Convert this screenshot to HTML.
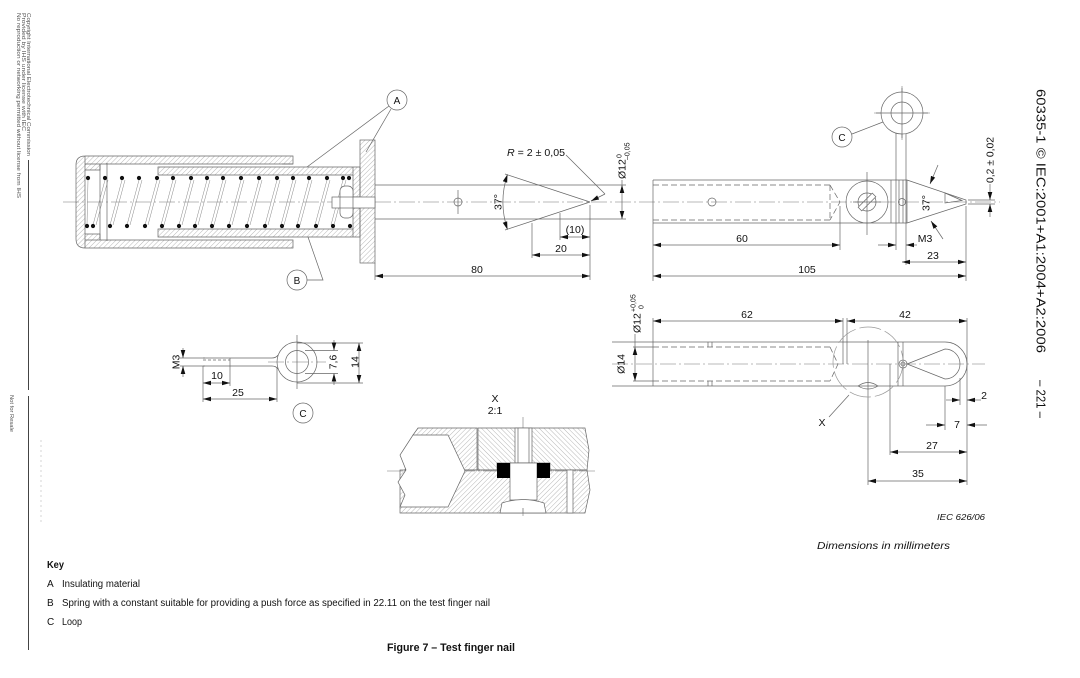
<!DOCTYPE html>
<html><head><meta charset="utf-8"><style>
html,body{margin:0;padding:0;background:#fff;}
svg{display:block;}
text{font-family:"Liberation Sans",Arial,sans-serif;fill:#111;}
</style></head><body>
<svg width="1080" height="678" viewBox="0 0 1080 678" xmlns="http://www.w3.org/2000/svg">
<defs>
<pattern id="h1" width="3.4" height="3.4" patternUnits="userSpaceOnUse" patternTransform="rotate(45)"><line x1="0" y1="0" x2="0" y2="3.4" stroke="#888" stroke-width="0.6"/></pattern>
<pattern id="h2" width="3.4" height="3.4" patternUnits="userSpaceOnUse" patternTransform="rotate(-45)"><line x1="0" y1="0" x2="0" y2="3.4" stroke="#888" stroke-width="0.6"/></pattern>
<marker id="ar" viewBox="0 0 8 6" refX="8" refY="3" markerWidth="8" markerHeight="6" markerUnits="userSpaceOnUse" orient="auto-start-reverse"><path d="M0,0.7 L8,3 L0,5.3 z" fill="#111"/></marker>
</defs>

<!-- ============ LEFT MARGIN ============ -->
<g font-size="5.5" fill="#555">
<text transform="translate(27,13) rotate(90)" textLength="143" lengthAdjust="spacingAndGlyphs" style="fill:#555">Copyright International Electrotechnical Commission</text>
<text transform="translate(22,13) rotate(90)" textLength="118" lengthAdjust="spacingAndGlyphs" style="fill:#555">Provided by IHS under license with IEC</text>
<text transform="translate(17,13) rotate(90)" textLength="185" lengthAdjust="spacingAndGlyphs" style="fill:#555">No reproduction or networking permitted without license from IHS</text>
<text transform="translate(10,395) rotate(90)" textLength="37" lengthAdjust="spacingAndGlyphs" style="fill:#555">Not for Resale</text>
</g>
<line x1="28.5" y1="160" x2="28.5" y2="390" stroke="#444" stroke-width="1"/>
<line x1="28.5" y1="396" x2="28.5" y2="650" stroke="#444" stroke-width="1"/>
<line x1="41" y1="440" x2="41" y2="525" stroke="#ccc" stroke-width="0.8" stroke-dasharray="2 3"/>

<!-- ============ RIGHT HEADER ============ -->
<text transform="translate(1036.5,89) rotate(90)" font-size="13" textLength="264" lengthAdjust="spacingAndGlyphs">60335-1 © IEC:2001+A1:2004+A2:2006</text>
<text transform="translate(1036.5,380) rotate(90)" font-size="13" textLength="38" lengthAdjust="spacingAndGlyphs">– 221 –</text>

<!-- ============ CENTER LINES ============ -->
<g fill="none" stroke="#777" stroke-width="0.6" stroke-dasharray="16 3 2 3">
<line x1="63" y1="202" x2="1000" y2="202"/>
<line x1="612" y1="364" x2="985" y2="364"/>
<line x1="268" y1="362" x2="326" y2="362"/>
<line x1="387" y1="471" x2="597" y2="471"/>
<line x1="523" y1="417" x2="523" y2="516"/>
<line x1="902" y1="86" x2="902" y2="140"/>
<line x1="874" y1="113" x2="930" y2="113"/>
</g>

<!-- ============ UPPER LEFT ASSEMBLY ============ -->
<g fill="none" stroke="#666" stroke-width="0.7">
<!-- outer barrel -->
<path d="M85,156H293V164H85Z M85,240H293V248H85Z M85,156Q76,156 76,165V239Q76,248 85,248Z M85,164H100V170H85Z M85,234H100V240H85Z" fill="url(#h1)"/>
<line x1="100" y1="164" x2="100" y2="240"/>
<line x1="107" y1="163" x2="107" y2="241"/>
<line x1="282" y1="164" x2="293" y2="164"/>
<!-- sleeve -->
<path d="M158,167H353V175H158Z M158,229H353V237H158Z M353,167H360V197H353Z M353,208H360V237H353Z" fill="url(#h1)"/>
<!-- spring coils -->
<path stroke="#888" stroke-width="0.5" d="M88,180L87,225 M105,180L93,225 M108,180L96,225 M122,180L110,225 M125,180L113,225 M139,180L127,225 M142,180L130,225 M157,180L145,225 M160,180L148,225 M173,180L161,225 M176,180L164,225 M191,180L179,225 M194,180L182,225 M207,180L195,225 M210,180L198,225 M223,180L211,225 M226,180L214,225 M241,180L229,225 M244,180L232,225 M259,180L247,225 M262,180L250,225 M277,180L265,225 M280,180L268,225 M293,180L281,225 M296,180L284,225 M309,180L297,225 M312,180L300,225 M327,180L315,225 M330,180L318,225 M343,180L331,225 M346,180L334,225"/>
<!-- flange -->
<rect x="360" y="140" width="15" height="123" fill="url(#h1)"/>
<!-- plunger head & screw -->
<rect x="340" y="186" width="13" height="32" rx="5" fill="#fff"/>
<rect x="332" y="197" width="43" height="11" fill="#fff"/>
<line x1="340" y1="197" x2="340" y2="208"/>
<line x1="353" y1="197" x2="353" y2="208"/>
<!-- shaft -->
<line x1="375" y1="185" x2="626" y2="185"/>
<line x1="375" y1="219" x2="626" y2="219"/>
<!-- cone -->
<line x1="505" y1="174" x2="590" y2="202"/>
<line x1="505" y1="230" x2="590" y2="202"/>
<!-- hole -->
<circle cx="458" cy="202" r="4"/>
<line x1="458" y1="190" x2="458" y2="214"/>
<!-- leaders A -->
<circle cx="397" cy="100" r="10" fill="#fff"/>
<line x1="389" y1="106" x2="307" y2="167"/>
<line x1="391" y1="109" x2="366" y2="152"/>
<!-- leader B -->
<circle cx="297" cy="280" r="10" fill="#fff"/>
<polyline points="307,280 323,280 308,237"/>
<!-- R leader -->
<polyline points="566,155 605,194" />
<line x1="605" y1="194" x2="591" y2="201" marker-end="url(#ar)"/>
<!-- 37 deg arc -->
<path d="M507.5,174.4 A87,87 0 0 0 507.5,229.6" marker-start="url(#ar)" marker-end="url(#ar)"/>
<!-- Ø12 dim -->
<line x1="622" y1="180" x2="622" y2="185"/>
<line x1="622" y1="185" x2="622" y2="219" marker-start="url(#ar)" marker-end="url(#ar)"/>
<!-- (10) -->
<line x1="560" y1="213" x2="560" y2="240"/>
<line x1="590" y1="205" x2="590" y2="280"/>
<line x1="560" y1="237" x2="590" y2="237" marker-start="url(#ar)" marker-end="url(#ar)"/>
<!-- 20 -->
<line x1="532" y1="223" x2="532" y2="258"/>
<line x1="532" y1="255" x2="590" y2="255" marker-start="url(#ar)" marker-end="url(#ar)"/>
<!-- 80 -->
<line x1="375" y1="263" x2="375" y2="280"/>
<line x1="375" y1="276" x2="590" y2="276" marker-start="url(#ar)" marker-end="url(#ar)"/>
</g>
<!-- spring dots -->
<g fill="#111">
<circle cx="88" cy="178" r="2.1"/><circle cx="105" cy="178" r="2.1"/><circle cx="122" cy="178" r="2.1"/><circle cx="139" cy="178" r="2.1"/><circle cx="157" cy="178" r="2.1"/><circle cx="173" cy="178" r="2.1"/><circle cx="191" cy="178" r="2.1"/><circle cx="207" cy="178" r="2.1"/><circle cx="223" cy="178" r="2.1"/><circle cx="241" cy="178" r="2.1"/><circle cx="259" cy="178" r="2.1"/><circle cx="277" cy="178" r="2.1"/><circle cx="293" cy="178" r="2.1"/><circle cx="309" cy="178" r="2.1"/><circle cx="327" cy="178" r="2.1"/><circle cx="343" cy="178" r="2.1"/><circle cx="349" cy="178" r="2.1"/>
<circle cx="87" cy="226" r="2.1"/><circle cx="93" cy="226" r="2.1"/><circle cx="110" cy="226" r="2.1"/><circle cx="127" cy="226" r="2.1"/><circle cx="145" cy="226" r="2.1"/><circle cx="162" cy="226" r="2.1"/><circle cx="179" cy="226" r="2.1"/><circle cx="195" cy="226" r="2.1"/><circle cx="212" cy="226" r="2.1"/><circle cx="229" cy="226" r="2.1"/><circle cx="247" cy="226" r="2.1"/><circle cx="265" cy="226" r="2.1"/><circle cx="282" cy="226" r="2.1"/><circle cx="298" cy="226" r="2.1"/><circle cx="316" cy="226" r="2.1"/><circle cx="333" cy="226" r="2.1"/><circle cx="350" cy="226" r="2.1"/>
</g>
<g font-size="10.5" text-anchor="middle">
<text x="397" y="104" font-size="10">A</text>
<text x="297" y="284" font-size="10">B</text>
<text x="507" y="156" text-anchor="start" textLength="58" lengthAdjust="spacingAndGlyphs"><tspan font-style="italic">R</tspan> = 2 ± 0,05</text>
<text transform="translate(498,202) rotate(-90)" dy="0.35em">37°</text>
<g transform="translate(622,179) rotate(-90)" text-anchor="start">
<text x="0" y="3.7">Ø12</text>
<text x="21" y="-0.5" font-size="7">0</text>
<text x="19" y="7.5" font-size="7">–0,05</text>
</g>
<text x="575" y="233">(10)</text>
<text x="561" y="252">20</text>
<text x="477" y="273">80</text>
</g>

<!-- ============ UPPER RIGHT VIEW ============ -->
<g fill="none" stroke="#666" stroke-width="0.7">
<line x1="653" y1="180" x2="907" y2="180"/>
<line x1="653" y1="223" x2="907" y2="223"/>
<line x1="653" y1="180" x2="653" y2="281"/>
<line x1="891" y1="180" x2="891" y2="223"/>
<line x1="907" y1="180" x2="907" y2="223"/>
<polyline points="907,180 966,200 966,204 907,223"/>
<polygon points="945,193 962,200.5 945,203"/>
<g stroke-dasharray="6 3">
<line x1="653" y1="185" x2="830" y2="185"/>
<line x1="653" y1="220" x2="830" y2="220"/>
<polyline points="830,185 840,202 830,220"/>
<line x1="830" y1="185" x2="830" y2="220"/>
</g>
<circle cx="712" cy="202" r="4"/>
<circle cx="867" cy="202" r="21"/>
<circle cx="867" cy="202" r="9"/>
<g transform="rotate(-45 867 202)"><rect x="857" y="199.5" width="20" height="5" fill="#fff"/></g>
<line x1="867" y1="172" x2="867" y2="235"/>
<line x1="853" y1="202" x2="881" y2="202"/>
<!-- loop wire -->
<line x1="896" y1="132" x2="896" y2="250"/>
<line x1="906" y1="132" x2="906" y2="265"/>
<line x1="899" y1="180" x2="899" y2="223"/>
<line x1="903" y1="180" x2="903" y2="223"/>
<circle cx="902" cy="113" r="21" fill="#fff"/>
<circle cx="902" cy="113" r="11"/>
<line x1="902" y1="88" x2="902" y2="138"/>
<line x1="876" y1="113" x2="928" y2="113"/>
<circle cx="902" cy="202" r="3.5"/>
<!-- C -->
<circle cx="842" cy="137" r="10" fill="#fff"/>
<line x1="852" y1="134" x2="883" y2="122"/>
<!-- 37 -->
<line x1="938" y1="165" x2="930" y2="184" marker-end="url(#ar)"/>
<line x1="943" y1="239" x2="931" y2="221" marker-end="url(#ar)"/>
<!-- M3 -->
<line x1="878" y1="245" x2="896" y2="245" marker-end="url(#ar)"/>
<line x1="917" y1="245" x2="906" y2="245" marker-end="url(#ar)"/>
<!-- 60 -->
<line x1="840" y1="206" x2="840" y2="250"/>
<line x1="653" y1="245" x2="840" y2="245" marker-start="url(#ar)" marker-end="url(#ar)"/>
<!-- 23 -->
<line x1="966" y1="206" x2="966" y2="281"/>
<line x1="902" y1="262" x2="966" y2="262" marker-start="url(#ar)" marker-end="url(#ar)"/>
<!-- 105 -->
<line x1="653" y1="276" x2="966" y2="276" marker-start="url(#ar)" marker-end="url(#ar)"/>
<!-- 0,2 -->
<line x1="968" y1="200" x2="995" y2="200"/>
<line x1="968" y1="204" x2="995" y2="204"/>
<line x1="990" y1="184" x2="990" y2="200" marker-end="url(#ar)"/>
<line x1="990" y1="217" x2="990" y2="204" marker-end="url(#ar)"/>
</g>
<g font-size="10.5" text-anchor="middle">
<text x="842" y="141" font-size="10">C</text>
<text transform="translate(926,203) rotate(-90)" dy="0.35em">37°</text>
<text x="925" y="242">M3</text>
<text x="742" y="242">60</text>
<text x="933" y="259">23</text>
<text x="807" y="273">105</text>
<text transform="translate(990,160) rotate(-90)" dy="0.35em" textLength="46" lengthAdjust="spacingAndGlyphs">0,2 ± 0,02</text>
</g>

<!-- ============ LOWER RIGHT VIEW ============ -->
<g fill="none" stroke="#666" stroke-width="0.7">
<line x1="653" y1="342" x2="945" y2="342"/>
<line x1="653" y1="386" x2="945" y2="386"/>
<line x1="653" y1="318" x2="653" y2="386"/>
<path d="M945,342 A22,22 0 0 1 945,386"/>
<path d="M907,364 L945,349 A15,15 0 0 1 945,379 Z"/>
<g stroke-dasharray="6 3">
<line x1="653" y1="347" x2="830" y2="347"/>
<line x1="653" y1="381" x2="830" y2="381"/>
<polyline points="830,347 838,364 830,381"/>
</g>
<line x1="708" y1="342" x2="708" y2="347"/><line x1="712" y1="342" x2="712" y2="347"/>
<line x1="708" y1="381" x2="708" y2="386"/><line x1="712" y1="381" x2="712" y2="386"/>
<line x1="843" y1="318" x2="843" y2="364"/>
<line x1="847" y1="318" x2="847" y2="364"/>
<line x1="890" y1="364" x2="890" y2="455"/>
<line x1="868" y1="340" x2="868" y2="485"/>
<line x1="898" y1="342" x2="898" y2="386"/>
<line x1="903" y1="342" x2="903" y2="386"/>
<circle cx="903" cy="364" r="4"/>
<circle cx="903" cy="364" r="2"/>
<path d="M858,386 Q868,379 878,386 Q868,392 858,386"/>
<circle cx="868" cy="362" r="35" stroke="#999" stroke-dasharray="22 4"/>
<line x1="829" y1="417" x2="849" y2="395"/>
<line x1="967" y1="318" x2="967" y2="485"/>
<line x1="945" y1="386" x2="945" y2="430"/>
<line x1="960" y1="378" x2="960" y2="405"/>
<!-- Ø dims -->
<line x1="612" y1="342" x2="653" y2="342"/>
<line x1="612" y1="386" x2="653" y2="386"/>
<line x1="633" y1="347" x2="653" y2="347"/>
<line x1="633" y1="381" x2="653" y2="381"/>
<line x1="635" y1="334" x2="635" y2="347"/>
<line x1="635" y1="347" x2="635" y2="381" marker-start="url(#ar)" marker-end="url(#ar)"/>
<!-- 62 / 42 -->
<line x1="653" y1="321" x2="843" y2="321" marker-start="url(#ar)" marker-end="url(#ar)"/>
<line x1="847" y1="321" x2="967" y2="321" marker-start="url(#ar)" marker-end="url(#ar)"/>
<!-- 2 -->
<line x1="946" y1="400" x2="960" y2="400" marker-end="url(#ar)"/>
<line x1="981" y1="400" x2="967" y2="400" marker-end="url(#ar)"/>
<!-- 7 -->
<line x1="926" y1="425" x2="945" y2="425" marker-end="url(#ar)"/>
<line x1="987" y1="425" x2="967" y2="425" marker-end="url(#ar)"/>
<!-- 27 / 35 -->
<line x1="890" y1="452" x2="967" y2="452" marker-start="url(#ar)" marker-end="url(#ar)"/>
<line x1="868" y1="481" x2="967" y2="481" marker-start="url(#ar)" marker-end="url(#ar)"/>
</g>
<g font-size="10.5" text-anchor="middle">
<text transform="translate(621,364) rotate(-90)" dy="0.35em">Ø14</text>
<g transform="translate(637,333) rotate(-90)" text-anchor="start">
<text x="0" y="3.7">Ø12</text>
<text x="21" y="-1.5" font-size="7">+0,05</text>
<text x="24" y="6.5" font-size="7">0</text>
</g>
<text x="747" y="318">62</text>
<text x="905" y="318">42</text>
<text x="984" y="399">2</text>
<text x="957" y="428">7</text>
<text x="932" y="449">27</text>
<text x="918" y="477">35</text>
<text x="822" y="426">X</text>
</g>

<!-- ============ LOOP (C) LEFT VIEW ============ -->
<g fill="none" stroke="#666" stroke-width="0.7">
<circle cx="297" cy="362" r="20"/>
<circle cx="297" cy="362" r="11.5"/>
<line x1="297" y1="335" x2="297" y2="389"/>
<path d="M203,358 H272 Q276,358 278,355"/>
<path d="M203,366 H272 Q276,366 278,369"/>
<line x1="203" y1="360" x2="230" y2="360" stroke-dasharray="3 2"/>
<line x1="230" y1="358" x2="230" y2="366"/>
<line x1="180" y1="358" x2="205" y2="358"/>
<line x1="180" y1="366" x2="205" y2="366"/>
<line x1="183" y1="348" x2="183" y2="358" marker-end="url(#ar)"/>
<line x1="183" y1="377" x2="183" y2="366" marker-end="url(#ar)"/>
<line x1="203" y1="366" x2="203" y2="402"/>
<line x1="230" y1="366" x2="230" y2="386"/>
<line x1="277" y1="368" x2="277" y2="402"/>
<line x1="203" y1="383" x2="230" y2="383" marker-start="url(#ar)" marker-end="url(#ar)"/>
<line x1="203" y1="399" x2="277" y2="399" marker-start="url(#ar)" marker-end="url(#ar)"/>
<line x1="297" y1="343" x2="363" y2="343"/>
<line x1="297" y1="383" x2="363" y2="383"/>
<line x1="305" y1="350.5" x2="338" y2="350.5"/>
<line x1="305" y1="373.5" x2="338" y2="373.5"/>
<line x1="334" y1="340" x2="334" y2="350.5" marker-end="url(#ar)"/>
<line x1="334" y1="385" x2="334" y2="373.5" marker-end="url(#ar)"/>
<line x1="359" y1="343" x2="359" y2="383" marker-start="url(#ar)" marker-end="url(#ar)"/>
<circle cx="303" cy="413" r="10"/>
</g>
<g font-size="10.5" text-anchor="middle">
<text transform="translate(176,362) rotate(-90)" dy="0.35em">M3</text>
<text x="217" y="379">10</text>
<text x="238" y="396">25</text>
<text transform="translate(333,362) rotate(-90)" dy="0.35em">7,6</text>
<text transform="translate(355,362) rotate(-90)" dy="0.35em">14</text>
<text x="303" y="417" font-size="10">C</text>
</g>

<!-- ============ DETAIL X ============ -->
<g fill="none" stroke="#666" stroke-width="0.7">
<path d="M418,428 H477 V470 H405 L413,435 Z" fill="url(#h1)"/>
<path d="M400,470 H587 L590,490 L585,513 H400 Z" fill="url(#h1)"/>
<path d="M478,428 H585 L589,450 L587,470 H478 Z" fill="url(#h2)"/>
<path d="M413,435 H448 L465,471 L448,507 H400 L405,495 L398,482 L406,470 L400,455 Z" fill="#fff"/>
<rect x="515" y="428" width="17" height="35" fill="#fff"/>
<line x1="518" y1="428" x2="518" y2="463"/>
<line x1="529" y1="428" x2="529" y2="463"/>
<rect x="497" y="463" width="53" height="7" fill="#fff"/>
<rect x="510" y="463" width="27" height="37" fill="#fff"/>
<path d="M500,513 L502,503 Q523,496 544,503 L546,513 Z" fill="#fff"/>
<line x1="523" y1="508" x2="523" y2="513"/>
<rect x="567" y="470" width="6" height="43" fill="#fff"/>
</g>
<rect x="497" y="463" width="13" height="15" fill="#000"/>
<rect x="537" y="463" width="13" height="15" fill="#000"/>
<g font-size="10.5" text-anchor="middle">
<text x="495" y="402">X</text>
<text x="495" y="414">2:1</text>
</g>

<!-- ============ NOTES ============ -->
<text x="937" y="520" font-size="8" font-style="italic" textLength="48" lengthAdjust="spacingAndGlyphs">IEC   626/06</text>
<text x="817" y="549" font-size="10.5" font-style="italic" textLength="133" lengthAdjust="spacingAndGlyphs">Dimensions in millimeters</text>

<g font-size="10">
<text x="47" y="568" font-weight="bold" textLength="17" lengthAdjust="spacingAndGlyphs">Key</text>
<text x="47" y="587">A</text>
<text x="62" y="587" textLength="78" lengthAdjust="spacingAndGlyphs">Insulating material</text>
<text x="47" y="606">B</text>
<text x="62" y="606" textLength="428" lengthAdjust="spacingAndGlyphs">Spring with a constant suitable for providing a push force as specified in 22.11 on the test finger nail</text>
<text x="47" y="625">C</text>
<text x="62" y="625" textLength="20" lengthAdjust="spacingAndGlyphs">Loop</text>
</g>
<text x="387" y="651" font-size="11" font-weight="bold" textLength="128" lengthAdjust="spacingAndGlyphs">Figure 7 – Test finger nail</text>
</svg>
</body></html>
